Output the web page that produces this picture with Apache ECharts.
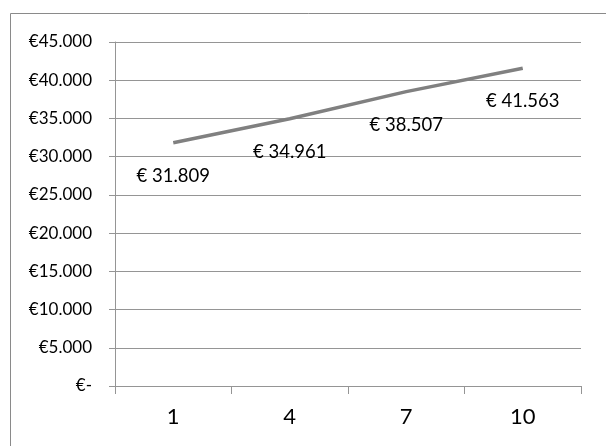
<!DOCTYPE html>
<html>
<head>
<meta charset="utf-8">
<script src="https://cdn.jsdelivr.net/npm/echarts@6/dist/echarts.min.js"></script>
<style>
  html, body { margin: 0; padding: 0; background: #fff; }
  #chart { width: 606px; height: 446px; }
</style>
</head>
<body>
<div id="chart"></div>
<script>
  // data
  var categories = ['1', '4', '7', '10'];
  var salary = [31809, 34961, 38507, 41563];
  var yTicks = { min: 0, max: 45000, step: 5000 };

  // 31809 -> "31.809"
  function dots(v) {
    return String(Math.round(v)).replace(/\B(?=(\d{3})+(?!\d))/g, '.');
  }

  var chart = echarts.init(document.getElementById('chart'));
  var grey = '#959595';

  chart.setOption({
    animation: false,
    textStyle: { fontFamily: 'Lato' },
    graphic: [{
      type: 'rect',
      shape: { x: 10.5, y: 13.5, width: 620, height: 460 },
      style: { fill: 'none', stroke: '#8a8a8a', lineWidth: 1 }
    }],
    grid: { left: 115, right: 25, top: 42, bottom: 60 },
    xAxis: {
      type: 'category',
      data: categories,
      boundaryGap: true,
      axisLine: { lineStyle: { color: grey, width: 1 } },
      axisTick: { show: true, length: 8, interval: 0, lineStyle: { color: grey } },
      axisLabel: { color: '#000', fontSize: 22, margin: 20 }
    },
    yAxis: {
      type: 'value',
      min: yTicks.min,
      max: yTicks.max,
      interval: yTicks.step,
      axisLine: { show: true, lineStyle: { color: grey, width: 1 } },
      axisTick: { show: true, length: 6, lineStyle: { color: grey } },
      splitLine: { lineStyle: { color: grey, width: 1 } },
      axisLabel: {
        color: '#000',
        fontSize: 17,
        margin: 23,
        formatter: function (v) { return v === 0 ? '€-' : '€' + dots(v); }
      }
    },
    series: [{
      type: 'line',
      data: salary,
      symbol: 'circle',
      symbolSize: 1,
      itemStyle: { color: 'rgba(0,0,0,0)' },
      lineStyle: { color: '#808080', width: 3.5 },
      label: {
        show: true,
        position: 'bottom',
        distance: 23,
        color: '#000',
        fontSize: 18.5,
        formatter: function (p) { return '€ ' + dots(p.value); }
      }
    }]
  });
</script>
</body>
</html>
